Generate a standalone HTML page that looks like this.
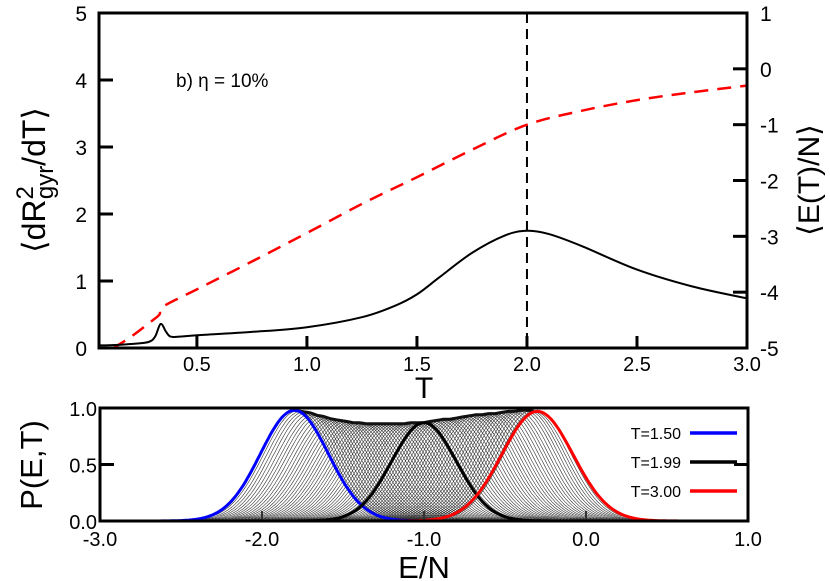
<!DOCTYPE html>
<html><head><meta charset="utf-8"><style>
body{margin:0;background:#fff}
svg{display:block;font-family:"Liberation Sans",sans-serif}
</style></head><body>
<svg id="chart" width="830" height="581" viewBox="0 0 830 581">
<g id="topPanel"></g>
<g id="botPanel"></g>
</svg>
<script>
// Top panel data
const tVals = [0.06,0.1,0.2,0.28,0.31,0.335,0.36,0.38,0.42,0.5,0.75,1.0,1.25,1.4,1.5,1.6,1.75,1.9,2.0,2.1,2.25,2.5,2.75,3.0];
const dRgyr = [0.04,0.04,0.06,0.09,0.17,0.36,0.24,0.17,0.17,0.19,0.24,0.31,0.46,0.63,0.8,1.05,1.42,1.68,1.75,1.7,1.52,1.17,0.92,0.74];
const tE = [0.12,0.2,0.3,0.33,0.35,0.5,0.75,1.0,1.25,1.5,1.75,2.0,2.25,2.5,2.75,3.0];
const eT = [-5.0,-4.8,-4.5,-4.4,-4.25,-3.95,-3.45,-2.94,-2.42,-1.94,-1.45,-1.0,-0.75,-0.56,-0.42,-0.3];
const xTicksTop = [0.5,1.0,1.5,2.0,2.5,3.0];
const yTicksLeft = [0,1,2,3,4,5];
const yTicksRight = [-5,-4,-3,-2,-1,0,1];
// Bottom panel data
const legendT = ["T=1.50","T=1.99","T=3.00"];
const mainMeans = [-1.8,-1.0,-0.3];
const mainPeaks = [0.98,0.87,0.97];
const mainSigmas = [0.21,0.2,0.22];
const grayMeans = [-1.8,-1.78,-1.76,-1.74,-1.72,-1.7,-1.68,-1.66,-1.64,-1.62,-1.6,-1.58,-1.56,-1.54,-1.52,-1.5,-1.48,-1.46,-1.44,-1.42,-1.4,-1.38,-1.36,-1.34,-1.32,-1.3,-1.28,-1.26,-1.24,-1.22,-1.2,-1.18,-1.16,-1.14,-1.12,-1.1,-1.08,-1.06,-1.04,-1.02,-1.0,-0.98,-0.96,-0.94,-0.92,-0.9,-0.88,-0.86,-0.84,-0.82,-0.8,-0.78,-0.76,-0.74,-0.72,-0.7,-0.68,-0.66,-0.64,-0.62,-0.6,-0.58,-0.56,-0.54,-0.52,-0.5,-0.48,-0.46,-0.44,-0.42,-0.4,-0.38,-0.36,-0.34,-0.32,-0.3];
const grayPeaks = [0.98,0.975,0.97,0.965,0.96,0.95,0.94,0.935,0.93,0.92,0.91,0.905,0.9,0.895,0.89,0.885,0.88,0.875,0.87,0.87,0.87,0.865,0.86,0.86,0.86,0.86,0.86,0.86,0.86,0.86,0.86,0.86,0.86,0.86,0.86,0.865,0.87,0.87,0.87,0.87,0.87,0.875,0.88,0.885,0.89,0.895,0.9,0.9,0.9,0.905,0.91,0.915,0.92,0.925,0.93,0.935,0.94,0.94,0.94,0.945,0.95,0.95,0.95,0.955,0.96,0.965,0.97,0.97,0.97,0.975,0.98,0.98,0.98,0.975,0.97,0.97];
const xTicksBot = [-3.0,-2.0,-1.0,0.0,1.0];
const yTicksBot = [0.0,0.5,1.0];

const NS="http://www.w3.org/2000/svg";
function mk(p,tag,a,txt){const e=document.createElementNS(NS,tag);for(const k in a)e.setAttribute(k,a[k]);if(txt!==undefined)e.textContent=txt;p.appendChild(e);return e;}
function smooth(pts){let s='M'+pts[0][0].toFixed(1)+','+pts[0][1].toFixed(1);for(let i=0;i<pts.length-1;i++){const p0=pts[Math.max(0,i-1)],p1=pts[i],p2=pts[i+1],p3=pts[Math.min(pts.length-1,i+2)];const c1=[p1[0]+(p2[0]-p0[0])/6,p1[1]+(p2[1]-p0[1])/6],c2=[p2[0]-(p3[0]-p1[0])/6,p2[1]-(p3[1]-p1[1])/6];s+='C'+c1[0].toFixed(1)+','+c1[1].toFixed(1)+' '+c2[0].toFixed(1)+','+c2[1].toFixed(1)+' '+p2[0].toFixed(1)+','+p2[1].toFixed(1);}return s;}
const topG=document.getElementById('topPanel'), botG=document.getElementById('botPanel');
const X0=99,X1=747,Y0=13,Y1=348, XMIN=0.055,XMAX=3.0;
const sx=v=>X0+(v-XMIN)/(XMAX-XMIN)*(X1-X0);
const syL=v=>Y1-v/5*(Y1-Y0);
const syR=v=>Y1-(v+5)/6*(Y1-Y0);
xTicksTop.forEach(v=>{
 const t=mk(topG,'line',{x1:sx(v),x2:sx(v),y1:Y1,y2:Y1-12,stroke:'#000','stroke-width':3});
 
 const l=mk(topG,'text',{x:sx(v),y:Y1+23,'text-anchor':'middle','font-size':20},v.toFixed(1));
 
});
yTicksLeft.forEach(v=>{
 const t=mk(topG,'line',{x1:X0,x2:X0+14,y1:syL(v),y2:syL(v),stroke:'#000','stroke-width':3});
 
 const l=mk(topG,'text',{x:X0-12,y:syL(v)+8,'text-anchor':'end','font-size':21},String(v));
 
});
yTicksRight.forEach(v=>{
 const t=mk(topG,'line',{x1:X1,x2:X1-14,y1:syR(v),y2:syR(v),stroke:'#000','stroke-width':3});
 
 const l=mk(topG,'text',{x:X1+13,y:syR(v)+8,'text-anchor':'start','font-size':21},String(v));
 
});
const vl=mk(topG,'line',{x1:sx(2.0),x2:sx(2.0),y1:Y0,y2:Y1,stroke:'#000','stroke-width':2,'stroke-dasharray':'10,6'});

const rp=mk(topG,'path',{d:smooth(tE.map((t,i)=>[sx(t),syR(eT[i])])),fill:'none',stroke:'#f00','stroke-width':2.5,'stroke-dasharray':'14,9'});

const bp=mk(topG,'path',{d:smooth(tVals.map((t,i)=>[sx(t),syL(dRgyr[i])])),fill:'none',stroke:'#000','stroke-width':2,'stroke-linejoin':'round'});

const fr=mk(topG,'rect',{x:X0,y:Y0,width:X1-X0,height:Y1-Y0,fill:'none',stroke:'#000','stroke-width':3});

let tx=mk(topG,'text',{x:176,y:87,'font-size':19},'b) η = 10%');

tx=mk(topG,'text',{x:424,y:398,'text-anchor':'middle','font-size':30},'T');

tx=mk(topG,'text',{transform:'translate(45,180) rotate(-90)','text-anchor':'middle','font-size':32});

tx.innerHTML='⟨dR<tspan dy="-12" font-size="24">2</tspan><tspan dy="20" dx="-13" font-size="24">gyr</tspan><tspan dy="-8">/dT⟩</tspan>';
tx=mk(topG,'text',{transform:'translate(819,180) rotate(-90)','text-anchor':'middle','font-size':30},'⟨E(T)/N⟩');


const BX0=100,BX1=748,BY0=408,BY1=521;
const bx=v=>BX0+(v+3)/4*(BX1-BX0);
const by=v=>BY1-v*(BY1-BY0);
function gpath(m,p,s){let a=[];for(let e=-3;e<=1.0001;e+=0.01){a.push((a.length?'L':'M')+bx(e).toFixed(1)+','+by(p*Math.exp(-(e-m)*(e-m)/(2*s*s))).toFixed(1));}return a.join('');}
grayMeans.forEach((m,i)=>{
 const g=mk(botG,'path',{d:gpath(m,grayPeaks[i],0.21),fill:'none',stroke:'#333','stroke-width':0.6});
 
});
let env=[];for(let e=-1.8;e<=-0.3001;e+=0.02){let mx=0;grayMeans.forEach((m,i)=>{mx=Math.max(mx,grayPeaks[i]*Math.exp(-(e-m)*(e-m)/(2*0.0441)))});env.push((env.length?'L':'M')+bx(e).toFixed(1)+','+by(mx).toFixed(1));}
const ev=mk(botG,'path',{d:env.join(''),fill:'none',stroke:'#111','stroke-width':3});

const cols=['#0000ff','#000','#ff0000'];
mainMeans.forEach((m,i)=>{
 const g=mk(botG,'path',{d:gpath(m,mainPeaks[i],mainSigmas[i]),fill:'none',stroke:cols[i],'stroke-width':3});
 
 const ly=433+i*29;
 const lt=mk(botG,'text',{x:681,y:ly+6,'text-anchor':'end','font-size':16},legendT[i]);
 
 const ll=mk(botG,'line',{x1:690,x2:737,y1:ly,y2:ly,stroke:cols[i],'stroke-width':3.5});
 
});
xTicksBot.forEach(v=>{
 const t=mk(botG,'line',{x1:bx(v),x2:bx(v),y1:BY1,y2:BY1-10,stroke:'#333','stroke-width':2});
 
 const l=mk(botG,'text',{x:bx(v),y:BY1+25,'text-anchor':'middle','font-size':20},v.toFixed(1));
 
});
yTicksBot.forEach(v=>{
 const t=mk(botG,'line',{x1:BX0,x2:BX0+14,y1:by(v),y2:by(v),stroke:'#000','stroke-width':3});
 
 const t2=mk(botG,'line',{x1:BX1,x2:BX1-14,y1:by(v),y2:by(v),stroke:'#000','stroke-width':3});
 
 const l=mk(botG,'text',{x:BX0-3,y:by(v)+8,'text-anchor':'end','font-size':20},v.toFixed(1));
 
});
const bf=mk(botG,'rect',{x:BX0,y:BY0,width:BX1-BX0,height:BY1-BY0,fill:'none',stroke:'#000','stroke-width':3});

tx=mk(botG,'text',{transform:'translate(42,465) rotate(-90)','text-anchor':'middle','font-size':31},'P(E,T)');

tx=mk(botG,'text',{x:424,y:578,'text-anchor':'middle','font-size':31},'E/N');

</script>
</body></html>
